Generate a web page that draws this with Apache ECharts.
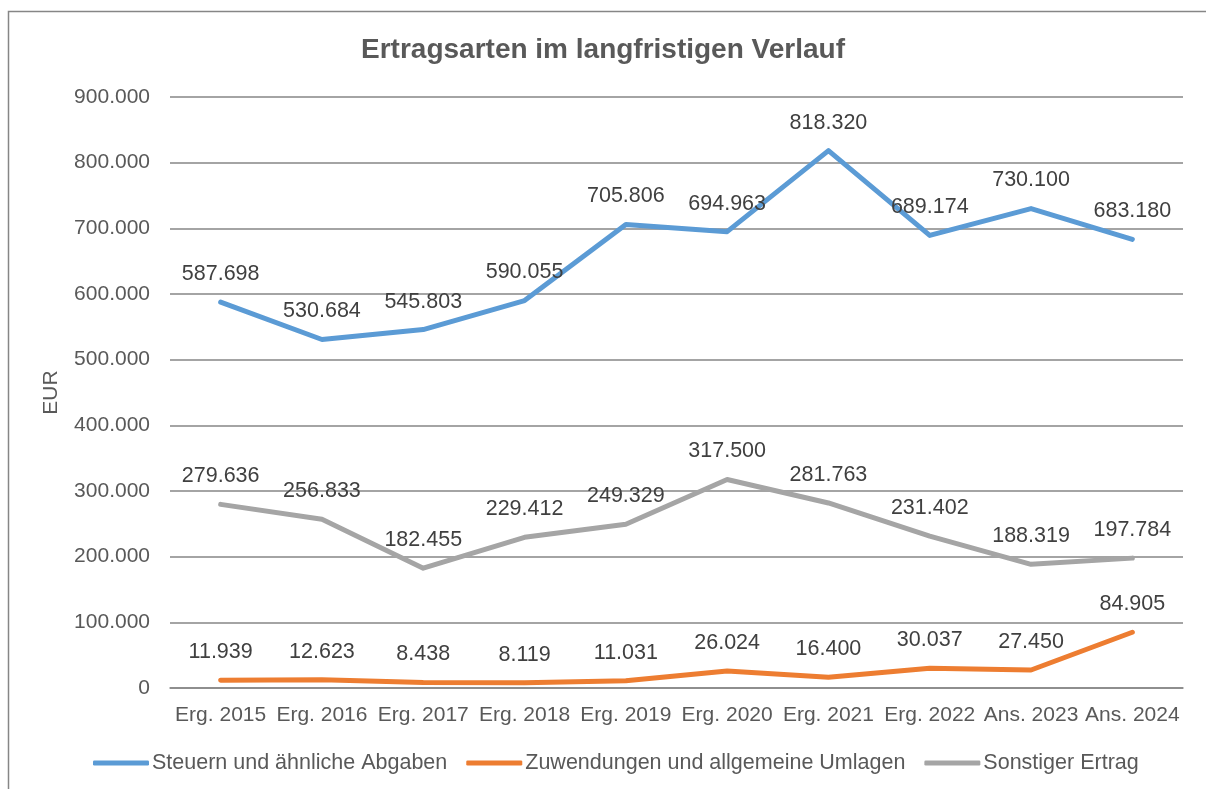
<!DOCTYPE html>
<html>
<head>
<meta charset="utf-8">
<script src="https://cdn.jsdelivr.net/npm/echarts@6/dist/echarts.min.js"></script>
<style>
  html, body { margin: 0; padding: 0; background: #fff; }
  #chart { width: 1206px; height: 789px; }
</style>
</head>
<body>
<div id="chart"></div>
<script>
const categories = ['Erg. 2015', 'Erg. 2016', 'Erg. 2017', 'Erg. 2018', 'Erg. 2019', 'Erg. 2020', 'Erg. 2021', 'Erg. 2022', 'Ans. 2023', 'Ans. 2024'];
const steuern = [587698, 530684, 545803, 590055, 705806, 694963, 818320, 689174, 730100, 683180];
const zuwendungen = [11939, 12623, 8438, 8119, 11031, 26024, 16400, 30037, 27450, 84905];
const sonstiger = [279636, 256833, 182455, 229412, 249329, 317500, 281763, 231402, 188319, 197784];

const fontFamily = '"Liberation Sans", Arial, sans-serif';

// german thousands separator
function fmt(v) {
  return String(v).replace(/\B(?=(\d{3})+(?!\d))/g, '.');
}

function lineSeries(name, data, color) {
  return {
    name: name,
    type: 'line',
    data: data,
    symbol: 'circle',
    symbolSize: 2,
    itemStyle: { color: color },
    lineStyle: { color: color, width: 5, cap: 'round', join: 'round' },
    label: {
      show: true,
      position: 'top',
      distance: 16,
      color: '#404040',
      fontSize: 21.5,
      fontFamily: fontFamily,
      formatter: p => fmt(p.value)
    },
    emphasis: { disabled: true }
  };
}

const chart = echarts.init(document.getElementById('chart'), null, { renderer: 'canvas' });
chart.setOption({
  backgroundColor: '#fff',
  animation: false,
  graphic: [{
    type: 'rect',
    shape: { x: 8.5, y: 11.5, width: 1400, height: 1000 },
    style: { fill: 'none', stroke: '#868686', lineWidth: 1.5 },
    silent: true
  }],
  title: {
    text: 'Ertragsarten im langfristigen Verlauf',
    left: 'center',
    top: 31,
    textStyle: { color: '#595959', fontSize: 28, fontWeight: 'bold', fontFamily: fontFamily }
  },
  legend: {
    bottom: 10,
    left: 88,
    itemWidth: 56,
    itemHeight: 5,
    itemGap: 19,
    icon: 'roundRect',
    textStyle: { color: '#595959', fontSize: 21.5, fontFamily: fontFamily, padding: [0, 0, 0, -2] },
    data: ['Steuern und ähnliche Abgaben', 'Zuwendungen und allgemeine Umlagen', 'Sonstiger Ertrag']
  },
  grid: { left: 170, right: 23, top: 97, bottom: 101, containLabel: false },
  xAxis: {
    type: 'category',
    data: categories,
    boundaryGap: true,
    axisLine: { lineStyle: { color: '#868686', width: 1.5 } },
    axisTick: { show: false },
    axisLabel: { color: '#595959', fontSize: 21, fontFamily: fontFamily, margin: 17, interval: 0 }
  },
  yAxis: {
    type: 'value',
    min: 0,
    max: 900000,
    interval: 100000,
    name: 'EUR',
    nameLocation: 'middle',
    nameRotate: 90,
    nameGap: 108,
    nameTextStyle: { color: '#595959', fontSize: 21, fontFamily: fontFamily },
    axisLine: { show: false },
    axisTick: { show: false },
    splitLine: { lineStyle: { color: '#868686', width: 1.5 } },
    axisLabel: { color: '#595959', fontSize: 21, fontFamily: fontFamily, margin: 20, formatter: v => fmt(v) }
  },
  series: [
    lineSeries('Steuern und ähnliche Abgaben', steuern, '#5B9BD5'),
    lineSeries('Zuwendungen und allgemeine Umlagen', zuwendungen, '#ED7D31'),
    lineSeries('Sonstiger Ertrag', sonstiger, '#A5A5A5')
  ]
});
</script>
</body>
</html>
